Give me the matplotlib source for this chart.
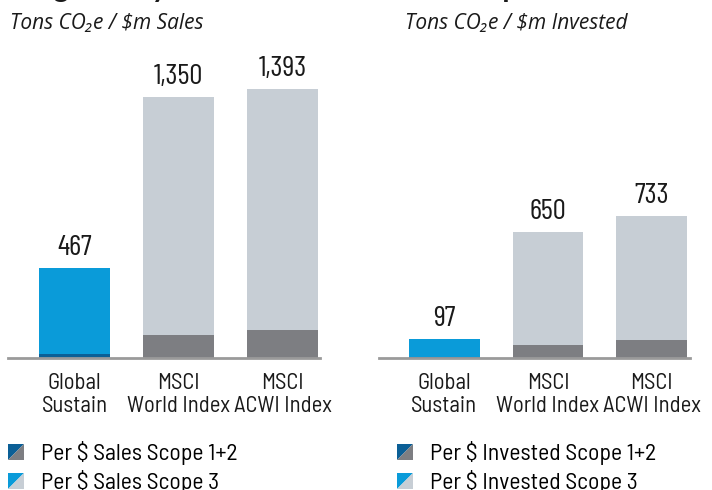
import matplotlib
matplotlib.use("Agg")
import matplotlib.pyplot as plt
from matplotlib.patches import Polygon
from matplotlib.legend_handler import HandlerBase

# ---- data
categories = ["Global\nSustain", "MSCI\nWorld Index", "MSCI\nACWI Index"]
sales_total = [467, 1350, 1393]
sales_scope12 = [22, 121, 145]
inv_total = [97, 650, 733]
inv_scope12 = [5, 67, 93]
sales_labels = ["467", "1,350", "1,393"]
inv_labels = ["97", "650", "733"]

BLUE = "#0A9BD9"
DBLUE = "#0B5F96"
LGRAY = "#C7CED5"
DGRAY = "#7D7E82"
TXT = "#1a1a1a"
NARROW = ["Barlow Condensed", "DejaVu Sans"]
SEMI = ["Barlow Semi Condensed", "DejaVu Sans"]
ITAL = ["Open Sans", "DejaVu Sans"]


class SplitSquare(HandlerBase):
    def __init__(self, c1, c2):
        super().__init__()
        self.c1, self.c2 = c1, c2

    def create_artists(self, legend, orig, xd, yd, w, h, fs, trans):
        s = h * 1.0
        x0, y0 = xd + (w - s) / 2, yd
        t1 = Polygon([[x0, y0], [x0, y0 + s], [x0 + s, y0 + s]], closed=True,
                     fc=self.c1, ec="none", transform=trans)
        t2 = Polygon([[x0, y0], [x0 + s, y0], [x0 + s, y0 + s]], closed=True,
                     fc=self.c2, ec="none", transform=trans)
        return [t1, t2]


fig = plt.figure(figsize=(7.12, 4.9), dpi=100)
W, H = 712.0, 490.0


def panel(left_px, right_px, xl, total, s12, labels, subtitle, sub_x, leg_names, leg_x):
    ax = fig.add_axes([left_px / W, 132 / H, (right_px - left_px) / W, 290 / H])
    x = list(range(len(categories)))
    s3 = [t - a for t, a in zip(total, s12)]
    c12 = [DBLUE, DGRAY, DGRAY]
    c3 = [BLUE, LGRAY, LGRAY]
    ax.bar(x, s12, width=0.683, color=c12, zorder=2)
    ax.bar(x, s3, width=0.683, bottom=s12, color=c3, zorder=2)
    for xi, t, lab in zip(x, total, labels):
        ax.annotate(lab, (xi, t), xytext=(0, 5), textcoords="offset points",
                    ha="center", va="bottom", fontsize=21, color=TXT, family=NARROW)
    ax.set_xlim(xl)
    ax.set_ylim(0, 1500)
    for sp in ["left", "right", "top"]:
        ax.spines[sp].set_visible(False)
    ax.spines["bottom"].set_color("#9a9a9a")
    ax.spines["bottom"].set_linewidth(2)
    ax.set_yticks([])
    ax.set_xticks(x)
    ax.set_xticklabels(categories, fontsize=16.3, color=TXT, family=SEMI, linespacing=1.08)
    ax.tick_params(axis="x", length=0, pad=11)
    fig.text(sub_x / W, 1 - 24 / H, subtitle, fontsize=15, style="italic",
             color=TXT, family=ITAL, va="center", ha="left")
    h1 = Polygon([[0, 0]])
    h2 = Polygon([[0, 0]])
    ax.legend([h1, h2], leg_names, loc="upper left",
              bbox_to_anchor=(leg_x / W, 1 - 441 / H), bbox_transform=fig.transFigure,
              frameon=False, handler_map={h1: SplitSquare(DBLUE, DGRAY), h2: SplitSquare(BLUE, LGRAY)},
              handlelength=0.66, handleheight=0.66, handletextpad=0.72, labelspacing=0.2,
              borderpad=0, borderaxespad=0,
              prop={"family": SEMI, "size": 17})
    return ax


panel(8, 320, (-0.639, 2.36), sales_total, sales_scope12, sales_labels,
      "Tons CO\u2082e / $m Sales", 10, ["Per $ Sales Scope 1+2", "Per $ Sales Scope 3"], 8)
panel(379, 690, (-0.63, 2.37), inv_total, inv_scope12, inv_labels,
      "Tons CO\u2082e / $m Invested", 405, ["Per $ Invested Scope 1+2", "Per $ Invested Scope 3"], 397)

# clipped heading at the very top
fig.text(0.0, 1 + 3 / H, "Weighted by Revenue and Invested Capital", fontsize=21,
         fontweight="bold", color=TXT, family=["Lato", "DejaVu Sans"], va="baseline", ha="left")

fig.savefig("out.png", dpi=100, facecolor="white")
